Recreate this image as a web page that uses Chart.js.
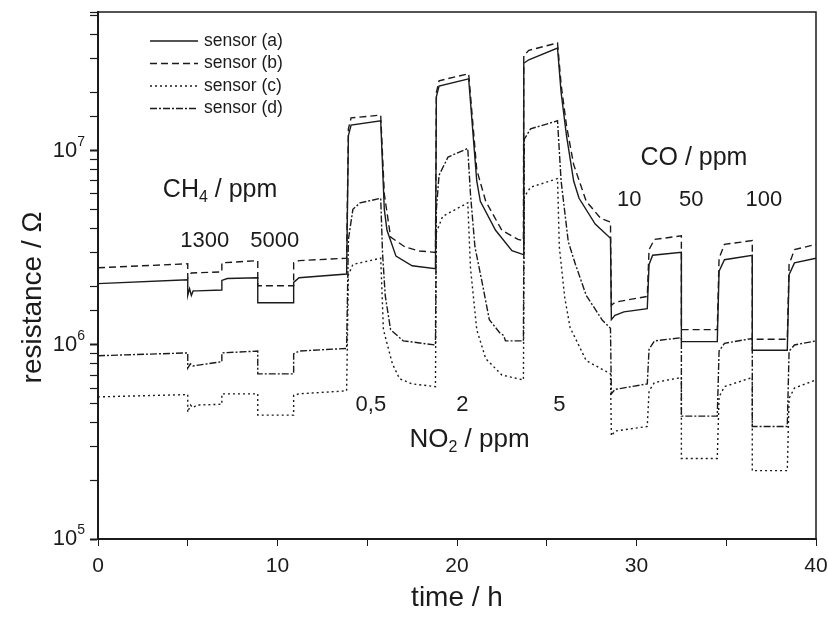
<!DOCTYPE html>
<html>
<head>
<meta charset="utf-8">
<title>Sensor resistance</title>
<script src="https://cdn.jsdelivr.net/npm/chart.js@4.4.1/dist/chart.umd.min.js"></script>
<style>
  html, body { margin: 0; padding: 0; background: #fff; }
</style>
</head>
<body>
<canvas id="myChart" width="828" height="619"></canvas>
<script>
const ctx = document.getElementById('myChart');

// [time / h, resistance / ohm]
const sensorA = [
  [0, 2.07e6], [5.0, 2.17e6], [5.0, 1.8e6], [5.1, 1.95e6], [5.2, 1.8e6], [5.3, 1.9e6], [5.5, 1.9e6],
  [6.9, 1.92e6], [6.9, 2.15e6], [7.2, 2.2e6], [8.9, 2.22e6], [8.9, 1.65e6], [10.9, 1.65e6],
  [10.9, 2.1e6], [11.2, 2.22e6], [13.85, 2.32e6], [13.95, 1.2e7], [14.1, 1.36e7], [15.75, 1.43e7],
  [15.95, 5e6], [16.1, 3.9e6], [16.6, 2.87e6], [17.5, 2.56e6], [18.8, 2.47e6],
  [18.85, 1.9e7], [19.0, 2.16e7], [20.65, 2.35e7], [21.1, 7e6], [21.3, 5.5e6], [22.15, 3.9e6],
  [23.06, 3.06e6], [23.7, 2.92e6], [23.72, 2.83e7], [24.0, 2.95e7], [25.6, 3.39e7],
  [25.8, 2e7], [26.1, 1.2e7], [26.5, 7e6], [26.8, 5.7e6], [27.7, 4.2e6], [28.55, 3.55e6],
  [28.6, 1.35e6], [28.8, 1.42e6], [29.3, 1.48e6], [30.6, 1.54e6], [30.7, 2.6e6], [30.9, 2.9e6],
  [32.5, 3.0e6], [32.5, 1.04e6], [34.5, 1.04e6], [34.6, 2.4e6], [34.9, 2.75e6], [36.45, 2.9e6],
  [36.45, 9.4e5], [38.4, 9.4e5], [38.5, 2.3e6], [38.8, 2.65e6], [40, 2.8e6]
];

const sensorB = [
  [0, 2.5e6], [5.0, 2.62e6], [5.0, 2.2e6], [5.2, 2.35e6], [6.9, 2.38e6], [6.9, 2.65e6],
  [8.9, 2.72e6], [8.9, 2.02e6], [10.9, 2.02e6], [10.9, 2.65e6], [11.2, 2.72e6], [13.85, 2.8e6],
  [13.95, 1.3e7], [14.1, 1.48e7], [15.75, 1.53e7], [15.95, 6e6], [16.3, 3.6e6], [17.1, 3.2e6],
  [17.9, 3.05e6], [18.8, 3.0e6], [18.85, 2e7], [19.0, 2.3e7], [20.65, 2.5e7], [21.1, 8e6],
  [21.6, 5.5e6], [22.5, 3.9e6], [23.4, 3.5e6], [23.7, 3.45e6], [23.72, 3.1e7], [24.0, 3.3e7],
  [25.6, 3.6e7], [25.8, 2.2e7], [26.1, 1.35e7], [26.5, 8.5e6], [27.2, 5.5e6], [28.0, 4.5e6],
  [28.55, 4.3e6], [28.6, 1.6e6], [28.8, 1.66e6], [30.6, 1.78e6], [30.7, 3.1e6], [31.0, 3.5e6],
  [32.5, 3.65e6], [32.5, 1.2e6], [34.5, 1.2e6], [34.6, 2.8e6], [34.9, 3.3e6], [36.45, 3.45e6],
  [36.45, 1.07e6], [38.4, 1.07e6], [38.5, 2.6e6], [38.8, 3.1e6], [40, 3.3e6]
];

const sensorC = [
  [0, 5.4e5], [5.0, 5.55e5], [5.0, 4.5e5], [5.15, 4.9e5], [5.3, 4.75e5], [5.5, 4.9e5],
  [6.9, 4.95e5], [6.9, 5.6e5], [8.9, 5.6e5], [8.9, 4.35e5], [10.9, 4.35e5], [10.9, 5.5e5],
  [11.2, 5.6e5], [13.85, 5.8e5], [13.95, 2.3e6], [14.2, 2.6e6], [15.75, 2.8e6], [15.9, 1.2e6],
  [16.4, 8e5], [16.8, 6.7e5], [17.5, 6.3e5], [18.8, 6.1e5], [18.85, 3.8e6], [19.2, 4.6e6],
  [20.6, 5.4e6], [20.75, 2.5e6], [21.1, 1.2e6], [21.6, 8.5e5], [22.5, 7e5], [23.7, 6.6e5],
  [23.75, 5.8e6], [24.1, 6.5e6], [25.6, 7.2e6], [25.7, 3.2e6], [26.0, 1.76e6], [26.3, 1.23e6],
  [27.2, 8.3e5], [28.55, 7.1e5], [28.6, 3.4e5], [28.8, 3.6e5], [30.6, 3.8e5], [30.7, 5.8e5],
  [31.0, 6.4e5], [32.5, 6.8e5], [32.5, 2.6e5], [34.5, 2.6e5], [34.6, 5.4e5], [34.9, 6.1e5],
  [36.45, 6.8e5], [36.45, 2.25e5], [38.4, 2.25e5], [38.5, 5.3e5], [38.8, 6.0e5], [40, 6.6e5]
];

const sensorD = [
  [0, 8.8e5], [5.0, 9.1e5], [5.0, 7.6e5], [5.15, 8.0e5], [5.3, 7.8e5], [6.9, 8.2e5], [6.9, 9.1e5],
  [8.9, 9.3e5], [8.9, 7.1e5], [10.9, 7.1e5], [10.9, 9.0e5], [11.2, 9.3e5], [13.85, 9.6e5],
  [13.95, 3.5e6], [14.2, 5.0e6], [14.6, 5.4e6], [15.75, 5.7e6], [15.85, 3e6], [16.0, 1.8e6],
  [16.3, 1.2e6], [17.0, 1.05e6], [18.8, 1.0e6], [18.85, 5e6], [19.0, 7.5e6], [19.5, 9.3e6],
  [20.6, 1.03e7], [20.75, 6e6], [21.0, 3.2e6], [21.4, 2.1e6], [21.8, 1.35e6], [22.4, 1.15e6],
  [22.6, 1.12e6], [22.7, 1.05e6], [23.7, 1.05e6], [23.75, 1.15e7], [24.1, 1.3e7], [25.6, 1.43e7],
  [25.8, 7e6], [26.2, 3.4e6], [26.6, 2.6e6], [27.2, 1.8e6], [28.1, 1.34e6], [28.55, 1.22e6],
  [28.6, 5.6e5], [28.8, 5.9e5], [30.6, 6.3e5], [30.7, 9.5e5], [31.0, 1.05e6], [32.5, 1.09e6],
  [32.5, 4.3e5], [34.5, 4.3e5], [34.6, 9.3e5], [34.9, 1.02e6], [36.45, 1.08e6], [36.45, 3.8e5],
  [38.4, 3.8e5], [38.5, 9.3e5], [38.8, 1.0e6], [40, 1.05e6]
];

const seriesNames = ['sensor (a)', 'sensor (b)', 'sensor (c)', 'sensor (d)'];
const xTickLabels = [0, 10, 20, 30, 40];
const yTickValues = [1e5, 1e6, 1e7];
const yTickExponents = ['5', '6', '7'];

const ink = '#1b1b1b';
const fontFamily = '"Liberation Sans", Arial, sans-serif';

// gas labels, placed in data coordinates (time, resistance)
const notes = [
  { parts: [['CH', 0], ['4', 1], [' / ppm', 0]], t: 6.8, r: 6.3e6, size: 25 },
  { parts: [['1300', 0]], t: 5.95, r: 3.45e6, size: 22 },
  { parts: [['5000', 0]], t: 9.85, r: 3.45e6, size: 22 },
  { parts: [['0,5', 0]], t: 15.2, r: 4.9e5, size: 22 },
  { parts: [['2', 0]], t: 20.3, r: 4.9e5, size: 22 },
  { parts: [['5', 0]], t: 25.7, r: 4.9e5, size: 22 },
  { parts: [['NO', 0], ['2', 1], [' / ppm', 0]], t: 20.7, r: 3.25e5, size: 26 },
  { parts: [['CO / ppm', 0]], t: 33.2, r: 9.2e6, size: 25 },
  { parts: [['10', 0]], t: 29.6, r: 5.6e6, size: 22 },
  { parts: [['50', 0]], t: 33.05, r: 5.6e6, size: 22 },
  { parts: [['100', 0]], t: 37.1, r: 5.6e6, size: 22 }
];

const toPoints = (pairs) => pairs.map(([t, r]) => ({ x: t, y: r }));

const isDecade = (value) => yTickValues.some((v) => Math.abs(v - value) / v < 1e-6);

const makeDataset = (label, pairs, dash) => ({
  label: label,
  data: toPoints(pairs),
  borderColor: ink,
  borderWidth: 1.4,
  borderDash: dash,
  pointRadius: 0,
  tension: 0,
  fill: false
});

// draw text made of normal (0), subscript (1) or superscript (2) pieces
const drawParts = (c, parts, x, y, size, align) => {
  const fontOf = (kind) => (kind ? Math.round(size * 0.62) : size) + 'px ' + fontFamily;
  const widths = parts.map(([text, kind]) => {
    c.font = fontOf(kind);
    return c.measureText(text).width;
  });
  const total = widths.reduce((a, b) => a + b, 0);
  let cx = align === 'right' ? x - total : x - total / 2;
  parts.forEach(([text, kind], i) => {
    c.font = fontOf(kind);
    const dy = kind === 1 ? size * 0.32 : kind === 2 ? -size * 0.38 : 0;
    c.fillText(text, cx, y + dy);
    cx += widths[i];
  });
};

const decorations = {
  id: 'decorations',
  afterDraw(chart) {
    const c = chart.ctx;
    const area = chart.chartArea;
    const xs = chart.scales.x;
    const ys = chart.scales.y;
    c.save();

    // frame top and right
    c.strokeStyle = ink;
    c.lineWidth = 1.5;
    c.beginPath();
    c.moveTo(area.left, area.top);
    c.lineTo(area.right, area.top);
    c.lineTo(area.right, area.bottom);
    c.stroke();

    c.fillStyle = ink;
    c.textBaseline = 'middle';
    c.textAlign = 'left';

    // y tick labels as 10 with a raised exponent
    yTickValues.forEach((v, i) => {
      drawParts(c, [['10', 0], [yTickExponents[i], 2]], area.left - 13, ys.getPixelForValue(v), 22, 'right');
    });

    // legend inside the plot
    chart.data.datasets.forEach((ds, i) => {
      const y = area.top + 29 + i * 22.5;
      c.setLineDash(ds.borderDash || []);
      c.lineWidth = ds.borderWidth;
      c.beginPath();
      c.moveTo(area.left + 52, y);
      c.lineTo(area.left + 100, y);
      c.stroke();
      c.setLineDash([]);
      c.font = '17.5px ' + fontFamily;
      c.fillText(ds.label, area.left + 106, y);
    });

    // gas annotations
    notes.forEach((n) => {
      drawParts(c, n.parts, xs.getPixelForValue(n.t), ys.getPixelForValue(n.r), n.size);
    });

    // y axis title
    c.translate(33, (area.top + area.bottom) / 2 + 22);
    c.rotate(-Math.PI / 2);
    c.textAlign = 'center';
    c.font = '28px ' + fontFamily;
    c.fillText('resistance / Ω', 0, 0);
    c.restore();
  }
};

new Chart(ctx, {
  type: 'line',
  data: {
    datasets: [
      makeDataset(seriesNames[0], sensorA, []),
      makeDataset(seriesNames[1], sensorB, [7, 4]),
      makeDataset(seriesNames[2], sensorC, [2, 3]),
      makeDataset(seriesNames[3], sensorD, [7, 2, 2, 2])
    ]
  },
  options: {
    responsive: false,
    animation: false,
    devicePixelRatio: 1,
    layout: { padding: { top: 12, right: 12, left: 0, bottom: 0 } },
    plugins: {
      legend: { display: false },
      tooltip: { enabled: false }
    },
    scales: {
      x: {
        type: 'linear',
        min: 0,
        max: 40,
        afterFit: (scale) => {
          scale.height = 80;
          scale.paddingLeft = 0;
          scale.paddingRight = 0;
        },
        ticks: {
          stepSize: 5,
          autoSkip: false,
          maxRotation: 0,
          padding: 8,
          color: ink,
          font: { family: fontFamily, size: 21 },
          callback: (value) => xTickLabels.includes(value) ? String(value) : ''
        },
        grid: { drawOnChartArea: false, drawTicks: true, tickLength: 7, color: ink },
        border: { color: ink, width: 2 },
        title: {
          display: true,
          text: 'time / h',
          color: ink,
          font: { family: fontFamily, size: 28 },
          padding: { top: 0, bottom: 4 }
        }
      },
      y: {
        type: 'logarithmic',
        min: 1e5,
        max: 5.2e7,
        afterFit: (scale) => {
          scale.width = 98;
          scale.paddingTop = 0;
          scale.paddingBottom = 0;
        },
        ticks: {
          autoSkip: false,
          padding: 5,
          color: ink,
          font: { family: fontFamily, size: 22 },
          // labels are drawn by the plugin with a proper superscript
          callback: () => ''
        },
        grid: {
          drawOnChartArea: false,
          drawTicks: true,
          tickLength: 8,
          color: ink,
          tickWidth: (c) => (c.tick && isDecade(c.tick.value)) ? 2 : 1.2
        },
        border: { color: ink, width: 2 }
      }
    }
  },
  plugins: [decorations]
});
</script>
</body>
</html>
